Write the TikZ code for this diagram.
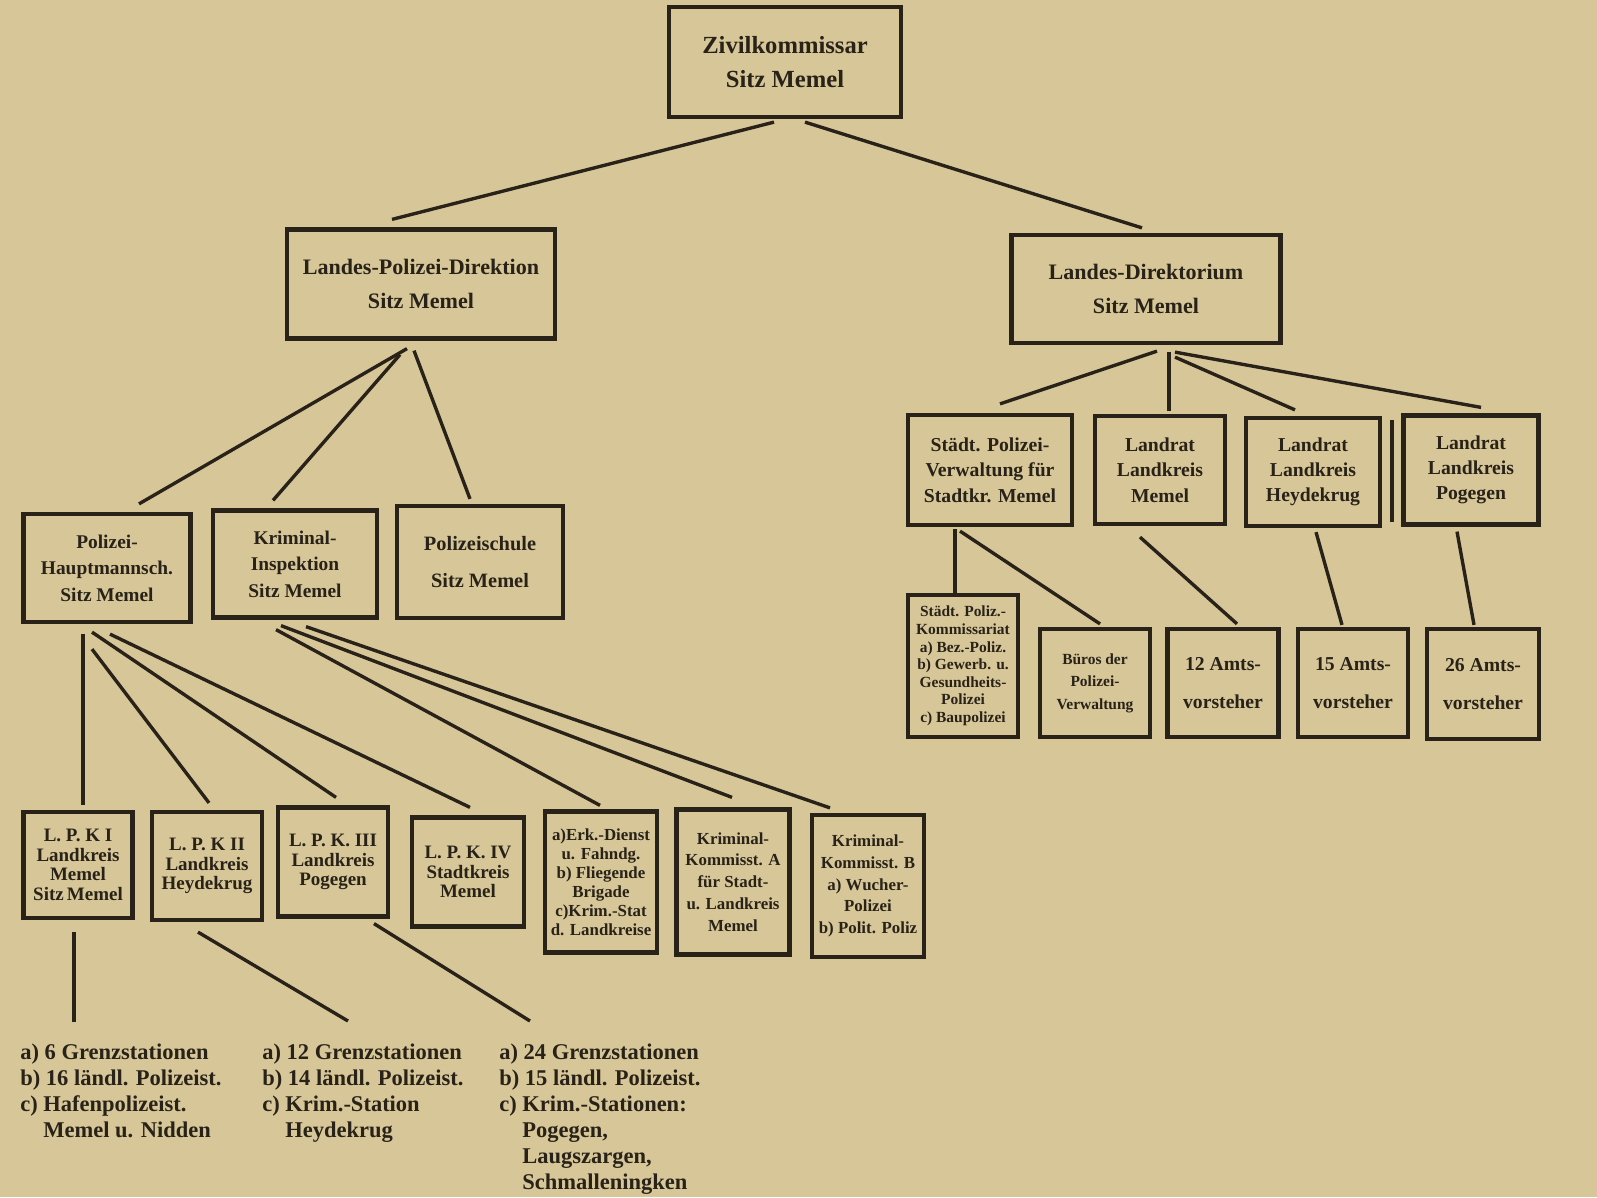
\documentclass[tikz,border=0pt]{standalone}
\usepackage{fontspec}
\setmainfont{Liberation Serif}
\usetikzlibrary{calc}

\definecolor{paper}{RGB}{215,199,152}
\definecolor{ink}{RGB}{40,34,24}

% type sizes of the boxes
\newcommand{\fontbig}{\fontsize{17.5}{24}\selectfont\bfseries}
\newcommand{\fonthead}{\fontsize{15.7}{24.5}\selectfont\bfseries}
\newcommand{\fontmid}{\fontsize{13.8}{18.8}\selectfont\bfseries}
\newcommand{\fontside}{\fontsize{14}{18}\selectfont\bfseries}
\newcommand{\fontamt}{\fontsize{14}{27}\selectfont\bfseries}
\newcommand{\fontlpk}{\fontsize{13.5}{14}\selectfont\bfseries}
\newcommand{\fontsml}{\fontsize{12}{13.5}\selectfont\bfseries}
\newcommand{\fontkk}{\fontsize{12}{15.5}\selectfont\bfseries}
\newcommand{\fonttiny}{\fontsize{11}{12.5}\selectfont\bfseries}
\newcommand{\fontlist}{\fontsize{16}{18.4}\selectfont\bfseries}
\newcommand{\ind}{\hphantom{c) }}

\tikzset{
  box/.style={draw=ink, line width=3pt, inner sep=0pt, align=center, text=ink},
  link/.style={ink, line width=2.4pt},
  list/.style={anchor=north west, align=left, inner sep=0pt, text=ink, font=\fontlist},
}

\begin{document}
\begin{tikzpicture}[x=0.025cm, y=-0.025cm]
  \fill [paper] (0,0) rectangle (1597,1197);
  \useasboundingbox (0,0) rectangle (1597,1197);

  % top
  \node (zk) at (785,62) [box, font=\fontbig, minimum width=5.8cm, minimum height=2.75cm] {Zivilkommissar\\Sitz Memel};
  \node (lpd) at (421,284) [box, font=\fonthead, minimum width=6.7cm, minimum height=2.725cm] {Landes-Polizei-Direktion\\Sitz Memel};
  \node (ld) at (1146,289) [box, font=\fonthead, minimum width=6.725cm, minimum height=2.7cm] {Landes-Direktorium\\Sitz Memel};

  % police side
  \node (ph) at (107,568) [box, font=\fontmid, minimum width=4.175cm, minimum height=2.7cm] {Polizei-\\Hauptmannsch.\\Sitz Memel};
  \node (ki) at (295,564) [box, font=\fontmid, minimum width=4.1cm, minimum height=2.675cm] {Kriminal-\\Inspektion\\Sitz Memel};
  \node (ps) at (480,562) [box, font=\fontsize{14.5}{26}\selectfont\bfseries, minimum width=4.15cm, minimum height=2.8cm] {Polizeischule\\Sitz Memel};

  \node (lpk1) at (78,865) [box, font=\fontlpk, minimum width=2.725cm, minimum height=2.65cm] {L. P. K I\\Landkreis\\Memel\\Sitz\,Memel};
  \node (lpk2) at (207,866) [box, font=\fontlpk, minimum width=2.75cm, minimum height=2.7cm] {L. P. K II\\Landkreis\\Heydekrug};
  \node (lpk3) at (333,862) [box, font=\fontlpk, minimum width=2.75cm, minimum height=2.725cm] {L. P. K. III\\Landkreis\\Pogegen};
  \node (lpk4) at (468,872) [box, font=\fontlpk, minimum width=2.8cm, minimum height=2.725cm] {L. P. K. IV\\Stadtkreis\\Memel};
  \node (erk) at (601,882) [box, font=\fontsml, minimum width=2.8cm, minimum height=3.525cm] {a)Erk.-Dienst\\u. Fahndg.\\b) Fliegende\\Brigade\\c)Krim.-Stat\\d. Landkreise};
  \node (kka) at (733,882) [box, font=\fontkk, minimum width=2.825cm, minimum height=3.625cm] {Kriminal-\\Kommisst. A\\für Stadt-\\u. Landkreis\\Memel};
  \node (kkb) at (868,886) [box, font=\fontkk, minimum width=2.8cm, minimum height=3.55cm] {Kriminal-\\Kommisst. B\\a) Wucher-\\Polizei\\b) Polit. Poliz};

  \node (l1) at (20,1044) [list] {a) 6 Grenzstationen\\b) 16 ländl. Polizeist.\\c) Hafenpolizeist.\\\ind Memel u. Nidden};
  \node (l2) at (262,1044) [list] {a) 12 Grenzstationen\\b) 14 ländl. Polizeist.\\c) Krim.-Station\\\ind Heydekrug};
  \node (l3) at (499,1044) [list] {a) 24 Grenzstationen\\b) 15 ländl. Polizeist.\\c) Krim.-Stationen:\\\ind Pogegen,\\\ind Laugszargen,\\\ind Schmalleningken};

  % administration side
  \node (stp) at (990,470) [box, font=\fontside, minimum width=4.1cm, minimum height=2.75cm] {Städt. Polizei-\\Verwaltung für\\Stadtkr. Memel};
  \node (lrm) at (1160,470) [box, font=\fontside, minimum width=3.25cm, minimum height=2.7cm] {Landrat\\Landkreis\\Memel};
  \node (lrh) at (1313,472) [box, font=\fontside, minimum width=3.35cm, minimum height=2.7cm] {Landrat\\Landkreis\\Heydekrug};
  \node (lrp) at (1471,470) [box, font=\fontside, minimum width=3.375cm, minimum height=2.725cm] {Landrat\\Landkreis\\Pogegen};
  \draw [link, line width=2.8pt] (1392,420) -- (1392,522);

  \node (kom) at (963,666) [box, font=\fonttiny, minimum width=2.75cm, minimum height=3.55cm] {Städt. Poliz.-\\Kommissariat\\a) Bez.-Poliz.\\b) Gewerb. u.\\Gesundheits-\\Polizei\\c) Baupolizei};
  \node (bur) at (1095,683) [box, font=\fontsize{11}{16}\selectfont\bfseries, minimum width=2.75cm, minimum height=2.7cm] {Büros der\\Polizei-\\Verwaltung};
  \node (a12) at (1223,683) [box, font=\fontamt, minimum width=2.775cm, minimum height=2.7cm] {12 Amts-\\vorsteher};
  \node (a15) at (1353,683) [box, font=\fontamt, minimum width=2.75cm, minimum height=2.7cm] {15 Amts-\\vorsteher};
  \node (a26) at (1483,684) [box, font=\fontamt, minimum width=2.8cm, minimum height=2.75cm] {26 Amts-\\vorsteher};

  % connectors
  \draw [link] ($(zk.south)+(-11,3)$) -- ($(lpd.north)+(-29,-8)$);
  \draw [link] ($(zk.south)+(20,3)$) -- ($(ld.north)+(-4,-5)$);

  \draw [link] ($(lpd.south)+(-14,8)$) -- ($(ph.north)+(32,-8)$);
  \draw [link] ($(lpd.south)+(-21,14)$) -- ($(ki.north)+(-22,-8)$);
  \draw [link] ($(lpd.south)+(-7,10)$) -- ($(ps.north)+(-10,-5)$);

  \draw [link] ($(ph.south)+(-24,10)$) -- ($(lpk1.north)+(5,-5)$);
  \draw [link] ($(ph.south)+(-15,25)$) -- ($(lpk2.north)+(2,-7)$);
  \draw [link] ($(ph.south)+(-15,8)$) -- ($(lpk3.north)+(3,-8)$);
  \draw [link] ($(ph.south)+(3,10)$) -- ($(lpk4.north)+(2,-8)$);

  \draw [link] ($(ki.south)+(-19,10)$) -- ($(erk.north)+(-1,-4)$);
  \draw [link] ($(ki.south)+(-14,6)$) -- ($(kka.north)+(-1,-10)$);
  \draw [link] ($(ki.south)+(11,7)$) -- ($(kkb.north)+(-38,-5)$);

  \draw [link] ($(lpk1.south)+(-4,12)$) -- ($(l1.north west)+(54,-22)$);
  \draw [link] ($(lpk2.south)+(-9,10)$) -- ($(l2.north west)+(86,-23)$);
  \draw [link] ($(lpk3.south)+(41,5)$) -- ($(l3.north west)+(31,-23)$);

  \draw [link] ($(ld.south)+(11,6)$) -- ($(stp.north)+(10,-9)$);
  \draw [link] ($(ld.south)+(23,7)$) -- ($(lrm.north)+(9,-3)$);
  \draw [link] ($(ld.south)+(29,12)$) -- ($(lrh.north)+(-18,-6)$);
  \draw [link] ($(ld.south)+(29,7)$) -- ($(lrp.north)+(10,-6)$);

  \draw [link] ($(stp.south)+(-35,2)$) -- ($(kom.north)+(-8,0)$);
  \draw [link] ($(stp.south)+(-30,4)$) -- ($(bur.north)+(5,-3)$);
  \draw [link] ($(lrm.south)+(-20,11)$) -- ($(a12.north)+(14,-3)$);
  \draw [link] ($(lrh.south)+(3,4)$) -- ($(a15.north)+(-11,-2)$);
  \draw [link] ($(lrp.south)+(-14,5)$) -- ($(a26.north)+(-9,-2)$);
\end{tikzpicture}
\end{document}
